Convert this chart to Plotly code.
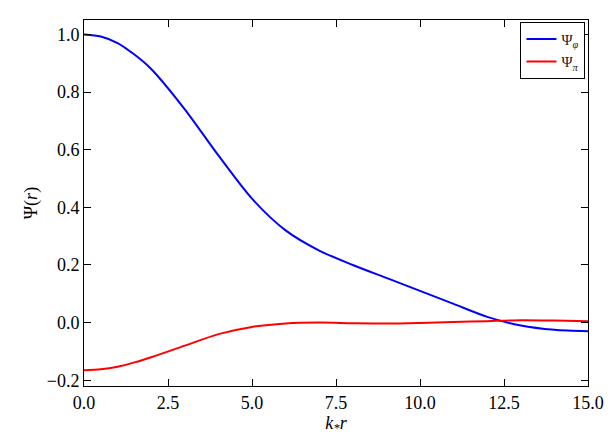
import plotly.graph_objects as go

kr = [0, 0.5, 1, 1.5, 2, 3, 4, 5, 6, 7, 8, 9, 10, 11, 12, 13, 14, 15]
psi_phi = [1.0, 0.993, 0.97, 0.93, 0.88, 0.74, 0.58, 0.43, 0.32, 0.25, 0.20,
           0.155, 0.11, 0.065, 0.02, -0.01, -0.025, -0.03]
psi_pi = [-0.165, -0.162, -0.153, -0.138, -0.12, -0.08, -0.04, -0.015, -0.003,
          0.0, -0.002, -0.003, -0.001, 0.002, 0.005, 0.008, 0.007, 0.005]

fam = "Liberation Serif"
font = dict(family=fam, size=18, color="black")

fig = go.Figure()
fig.add_trace(go.Scatter(x=kr, y=psi_phi, name="Ψ<sub><i>φ</i></sub>", mode="lines",
                         line=dict(color="#0000ff", width=2, shape="spline", smoothing=0.8)))
fig.add_trace(go.Scatter(x=kr, y=psi_pi, name="Ψ<sub><i>π</i></sub>", mode="lines",
                         line=dict(color="#ff0000", width=2, shape="spline", smoothing=0.8)))

axis = dict(showgrid=False, zeroline=False, showline=True, mirror="ticks",
            linecolor="black", linewidth=1, ticks="inside", ticklen=7,
            tickcolor="black", tickfont=font)
fig.update_xaxes(axis, range=[0, 15], tickvals=[0, 2.5, 5, 7.5, 10, 12.5, 15],
                 ticktext=["0.0", "2.5", "5.0", "7.5", "10.0", "12.5", "15.0"],
                 title=dict(text="<i>k<sub>*</sub>r</i>", font=font, standoff=2))
fig.update_yaxes(axis, range=[-0.22, 1.05], tickvals=[-0.2, 0, 0.2, 0.4, 0.6, 0.8, 1.0],
                 ticktext=["−0.2", "0.0", "0.2", "0.4", "0.6", "0.8", "1.0"],
                 title=dict(text="Ψ(<i>r</i>)", font=font, standoff=4))
fig.update_layout(
    width=616, height=442, template="simple_white",
    font=dict(family=fam),
    plot_bgcolor="white", paper_bgcolor="white",
    margin=dict(l=76, r=36, t=12, b=64),
    showlegend=True,
    legend=dict(x=0.995, y=0.995, xanchor="right", yanchor="top",
                bordercolor="black", borderwidth=1, font=dict(family=fam, size=15),
                bgcolor="white"),
)
fig.write_html("out.html")
